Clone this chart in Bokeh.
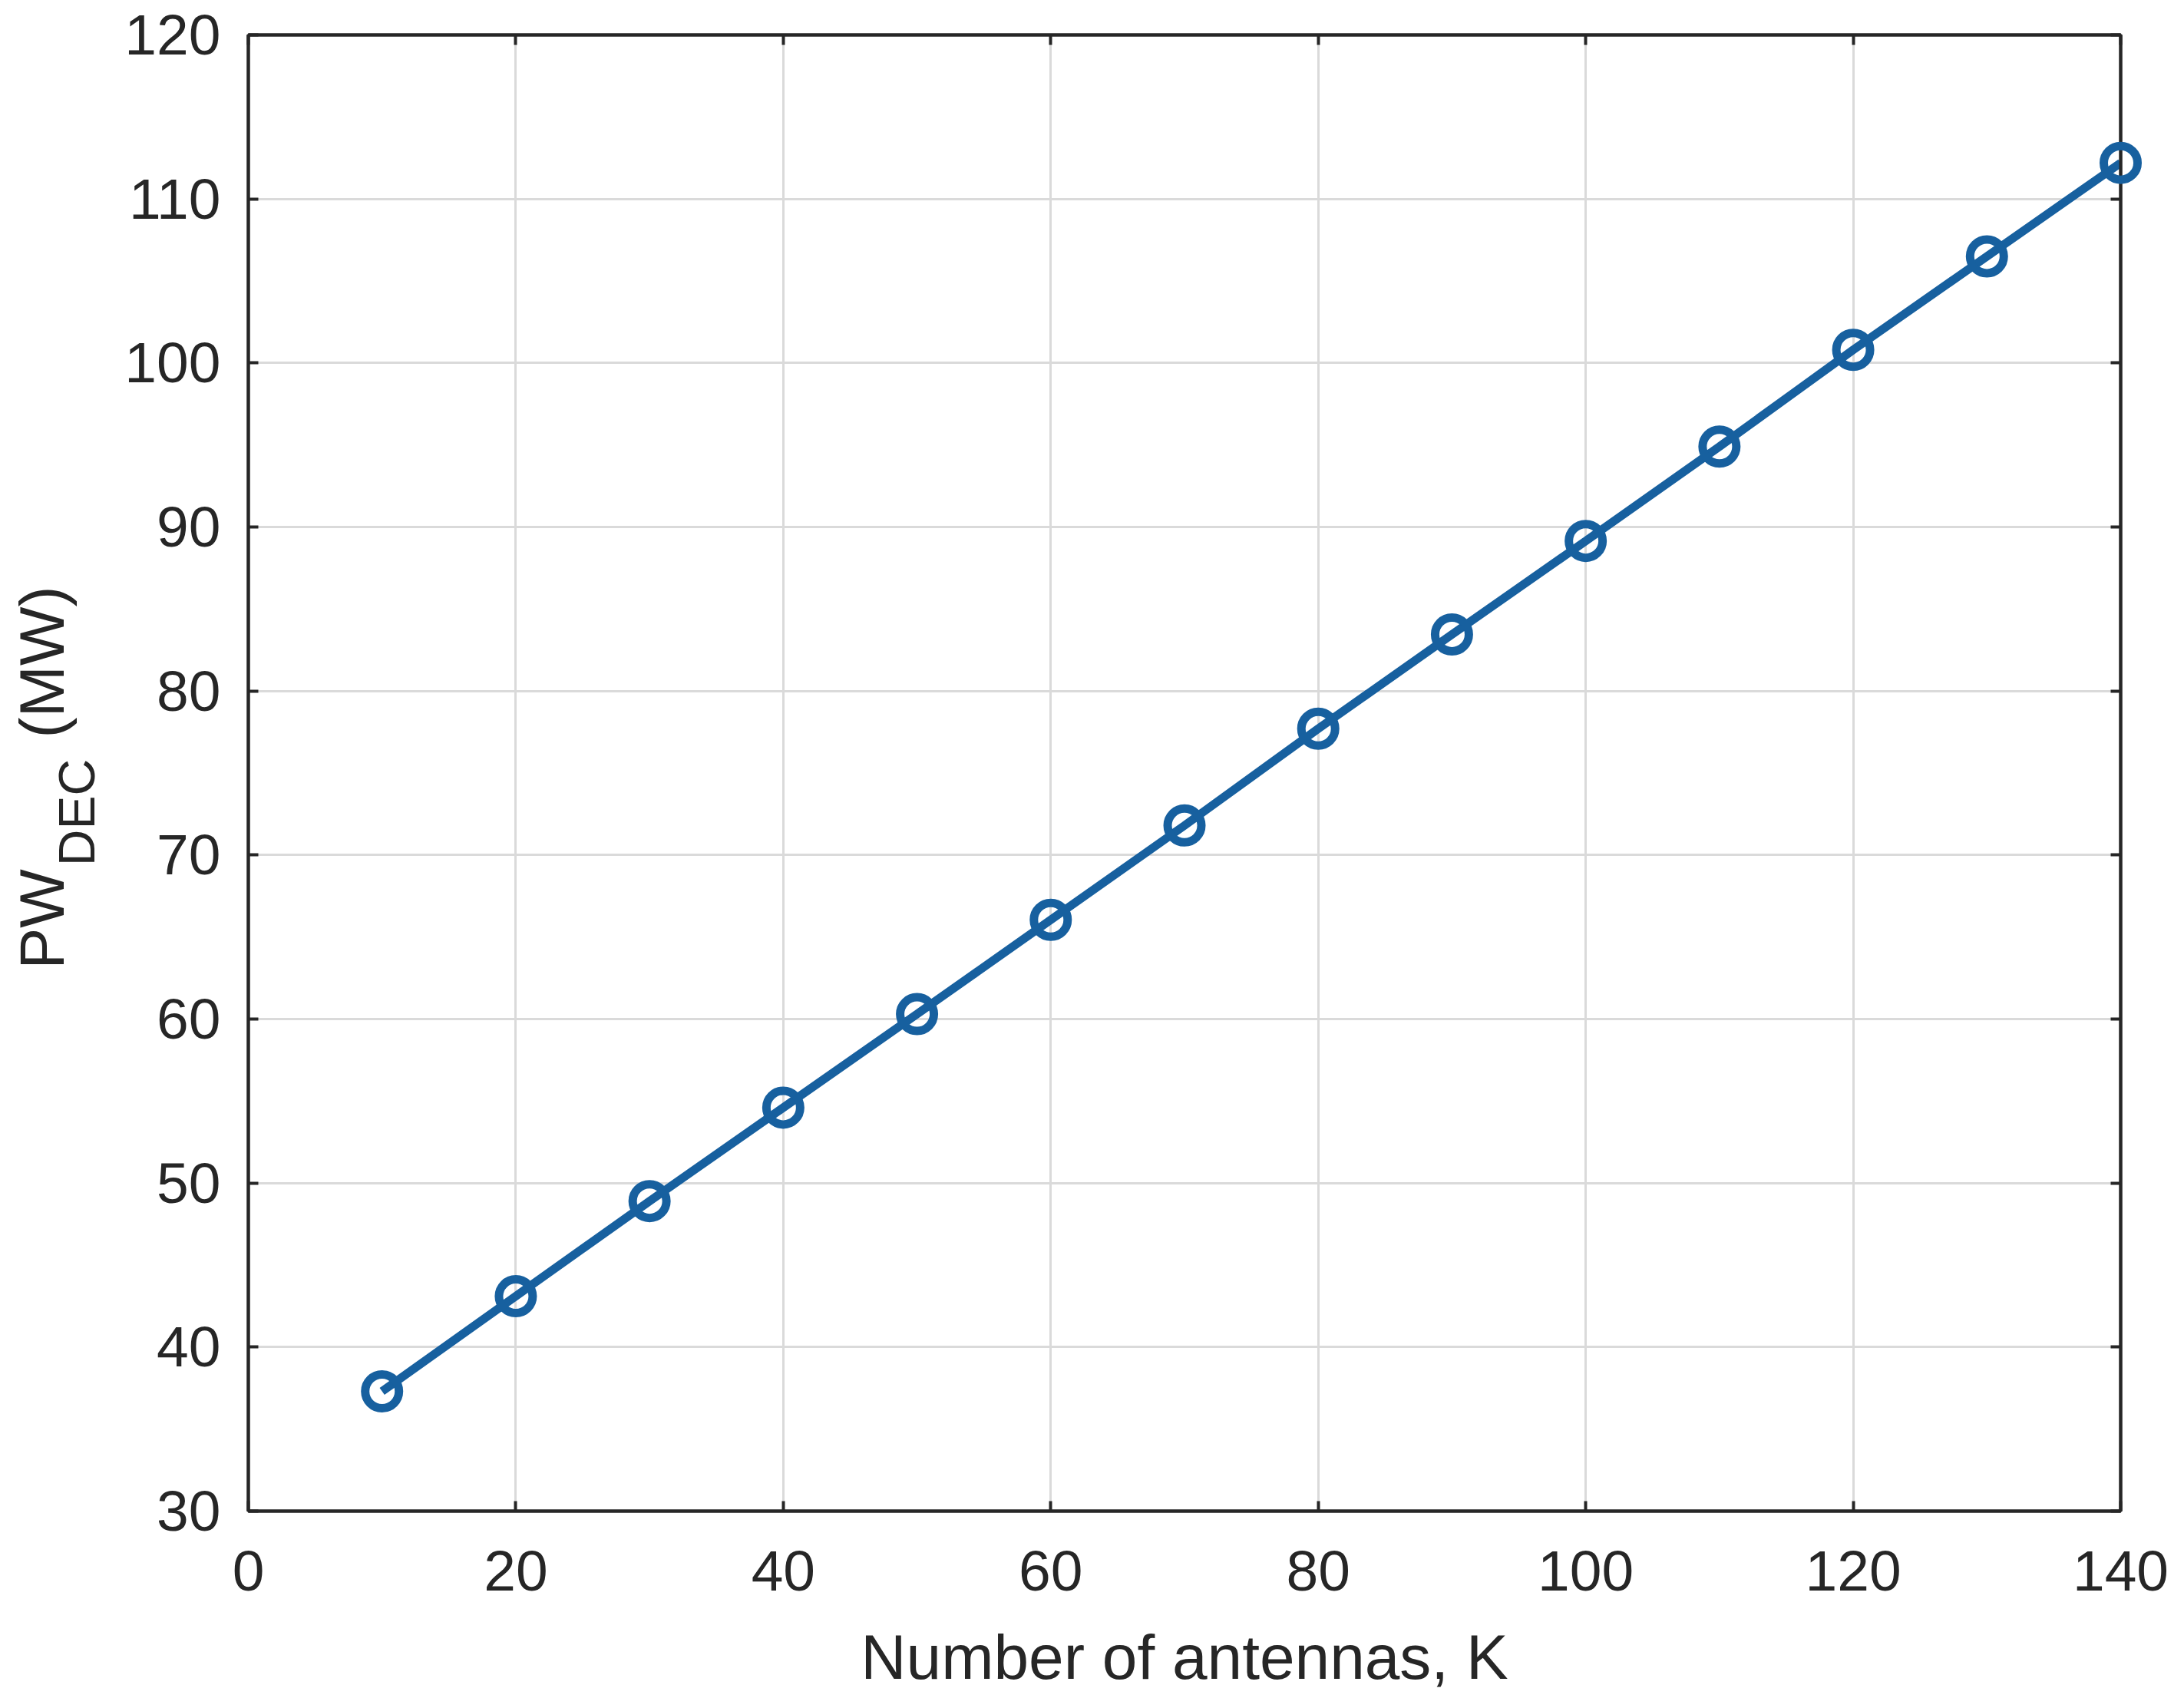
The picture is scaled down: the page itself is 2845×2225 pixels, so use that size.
from math import pi
from bokeh.plotting import figure
from bokeh.layouts import row
from bokeh.models import LinearAxis, FixedTicker, Range1d
from bokeh.core.properties import value
from bokeh.embed import file_html
from bokeh.resources import INLINE

# ---- data ----
antennas = [10, 20, 30, 40, 50, 60, 70, 80, 90, 100, 110, 120, 130, 140]
pw_dec = [37.3, 43.1, 48.9, 54.6, 60.3, 66.05, 71.8, 77.7, 83.45, 89.15, 94.9, 100.8, 106.5, 112.2]
x_ticks = [0, 20, 40, 60, 80, 100, 120, 140]
y_ticks = [30, 40, 50, 60, 70, 80, 90, 100, 110, 120]
x_label = "Number of antennas, K"
y_label_main = "PW"
y_label_sub = "DEC"
y_label_unit = "(MW)"

# ---- layout (screenshot pixels) ----
TOTAL_W, H = 2840, 2220
LW = 150                          # width of the y-label strip
MW = TOTAL_W - LW                 # width of the main figure
PAGE_FL, PAGE_FR, PAGE_FT, PAGE_FB = 323, 2762, 45, 1968
X0, X1, Y0, Y1 = 0, 140, 30, 120

LINE_C = "#17609f"
TXT_C = "#262626"
FONT = "Liberation Sans"

p = figure(width=MW, height=H, x_range=Range1d(X0, X1), y_range=Range1d(Y0, Y1),
           output_backend="svg", toolbar_location=None, title=None,
           min_border_left=PAGE_FL - LW, min_border_right=MW - (PAGE_FR - LW),
           min_border_top=PAGE_FT, min_border_bottom=H - PAGE_FB,
           background_fill_color="white", border_fill_color="white")

xb = p.xaxis[0]
yl = p.yaxis[0]
xt = LinearAxis()
yr = LinearAxis()
p.add_layout(xt, "above")
p.add_layout(yr, "right")

for ax, ticks in ((xb, x_ticks), (xt, x_ticks), (yl, y_ticks), (yr, y_ticks)):
    ax.ticker = FixedTicker(ticks=ticks)
    ax.major_tick_in = 13
    ax.major_tick_out = 0
    ax.major_tick_line_width = 4
    ax.major_tick_line_color = TXT_C
    ax.minor_tick_line_color = None
    ax.axis_line_color = TXT_C
    ax.axis_line_width = 4
    ax.major_label_text_font = FONT
    ax.major_label_text_color = TXT_C
    ax.major_label_text_font_size = "75px"

# top / right axes only carry the inward ticks of the box
for ax in (xt, yr):
    ax.major_label_text_color = None
    ax.major_label_text_font_size = "1px"
    ax.major_label_standoff = 0

xb.major_label_standoff = 52
yl.major_label_standoff = 36
xb.axis_label = x_label
xb.axis_label_text_font = FONT
xb.axis_label_text_font_style = "normal"
xb.axis_label_text_font_size = "82px"
xb.axis_label_text_color = TXT_C
xb.axis_label_standoff = 38

p.xgrid.ticker = FixedTicker(ticks=x_ticks)
p.ygrid.ticker = FixedTicker(ticks=y_ticks)
p.grid.grid_line_color = "#dadada"
p.grid.grid_line_width = 3

p.outline_line_color = TXT_C
p.outline_line_width = 4

p.line(antennas, pw_dec, line_color=LINE_C, line_width=11)
p.scatter(antennas, pw_dec, marker="circle", size=44, line_color=LINE_C,
          line_width=11, fill_color=None, level="overlay")

# ---- y-axis label strip: its frame is aligned with the main frame vertically;
#      y data = -(screenshot y), x data = screenshot x ----
q = figure(width=LW, height=H, x_range=Range1d(0, LW),
           y_range=Range1d(-PAGE_FB, -PAGE_FT),
           output_backend="svg", toolbar_location=None, title=None,
           x_axis_location=None, y_axis_location=None,
           min_border_left=0, min_border_right=0,
           min_border_top=PAGE_FT, min_border_bottom=H - PAGE_FB,
           outline_line_color=None,
           background_fill_color="white", border_fill_color="white")
q.grid.visible = False


def ylab(text, cx, cy, size):
    q.text(x=[cx], y=[-cy], text=[text], angle=pi / 2,
           text_align="center", text_baseline="middle",
           text_font=value(FONT), text_font_size=size, text_color=TXT_C)


ylab(y_label_main, 54, 1197, "81px")
ylab(y_label_sub, 99, 1058, "66px")
ylab(y_label_unit, 54, 862, "81px")

layout = row(q, p)
open("out.html", "w").write(file_html(layout, INLINE))
